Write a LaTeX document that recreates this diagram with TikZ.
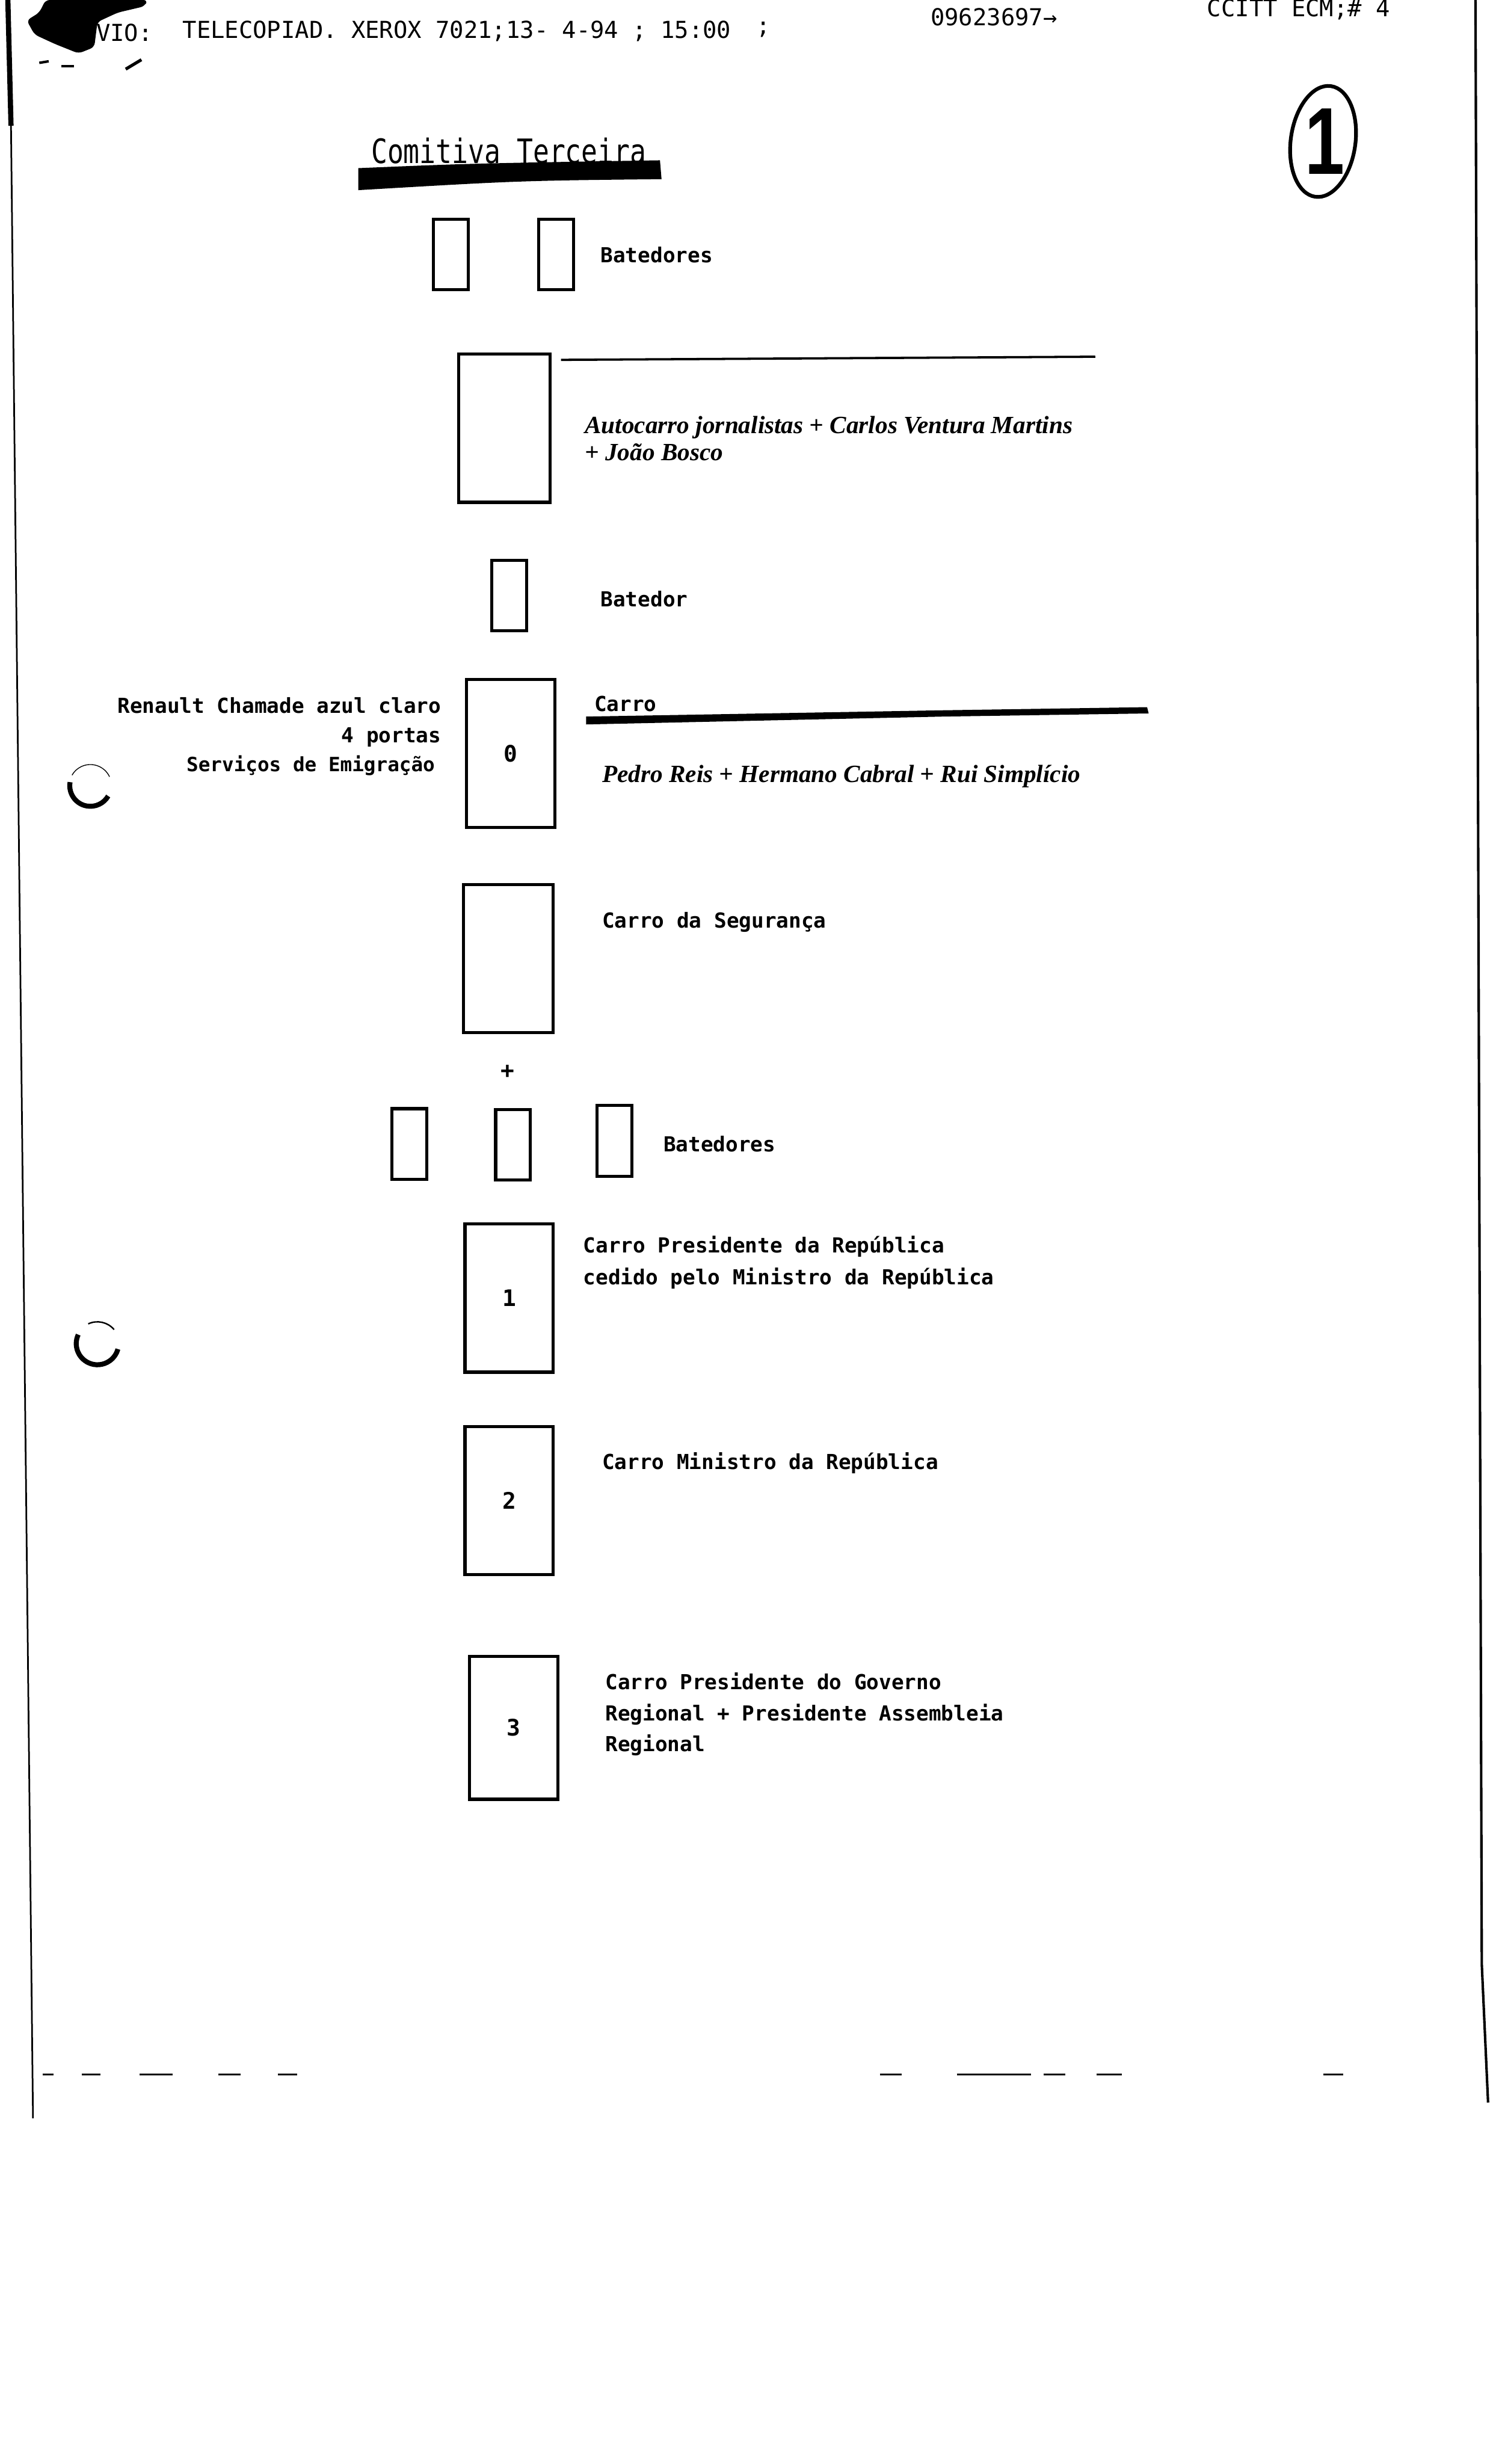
\documentclass[tikz,border=0pt]{standalone}
\usepackage{fontspec}
\usetikzlibrary{shapes.geometric}
\newfontfamily\faxfont{DejaVu Sans Mono}
\newfontfamily\pressfont{Liberation Serif}
\newfontfamily\handfont{Liberation Sans}
\tikzset{
  moto/.style={draw, line width=1.5pt, minimum width=0.59cm, minimum height=1.2cm, inner sep=0pt},
  car/.style={draw, line width=1.5pt, minimum width=1.5cm, minimum height=2.52cm, inner sep=0pt,
    font=\faxfont\bfseries\fontsize{11}{11}\selectfont},
  fax/.style={anchor=west, inner sep=0pt, align=left, font=\faxfont\bfseries\fontsize{10}{15.5}\selectfont},
  header/.style={anchor=west, inner sep=0pt, font=\faxfont\fontsize{11.3}{11.3}\selectfont},
  press/.style={anchor=west, inner sep=0pt, align=left,
    font=\pressfont\bfseries\itshape\fontsize{12}{13}\selectfont},
}
\begin{document}
\begin{tikzpicture}[x=0.02672cm, y=-0.02672cm]
    \fill[white] (0,0) rectangle (952,1568);
    \useasboundingbox (0,0) rectangle (952,1568);
    % Fax page edges and header
    \fill[rounded corners=2pt] (29,0) -- (94,0) -- (92,4) -- (75,8) -- (62,14) -- (60,30) -- (50,34)
        -- (35,28) -- (22,22) -- (17,13) -- (25,8) -- cycle;
    \draw[line width=1.2pt] (25,40) -- (31,39);
    \draw[line width=1.2pt] (39,42) -- (47,42);
    \draw[line width=1.5pt] (80,44) -- (90,38);
    \draw[line width=2.5pt] (5,0) -- (7,80);
    \draw[line width=0.8pt] (7,80) -- (21,1348);
    \draw[line width=1.2pt] (939,0) -- (943,1250) -- (947,1338);
    \node[header] (hdvio) at (61,21) {VIO:};
    \node[header] (hdfax) at (116,20) {TELECOPIAD. XEROX 7021;13- 4-94 ; 15:00};
    \node[header] (hdsemi) at (481,19) {;};
    \node[header] (hdnum) at (592,11) {09623697→};
    \node[header] (hdecm) at (768,6) {CCITT ECM;\# 4};
    \foreach \a/\b in {27/34, 52/64, 89/110, 139/153, 177/189, 560/574, 609/656, 664/678, 698/714, 842/855}
        \draw[line width=0.9pt] (\a,1320) -- (\b,1320);
    % Page number
    \node[draw, ellipse, line width=1.8pt, minimum width=1.1cm, minimum height=1.9cm, rotate=-8] (pageno) at (842,90) {};
    \node[font=\handfont\bfseries\fontsize{46}{46}\selectfont] (pagenum) at (843,90) {\scalebox{0.75}[1]{1}};
    % Title
    \node[anchor=west, inner sep=0pt, font=\faxfont\fontsize{13}{13}\selectfont] (title) at (236,96)
        {\scalebox{1}[1.25]{Comitiva Terceira}};
    \fill (228,107) .. controls (300,104) .. (420,102) -- (421,114) .. controls (330,115) .. (228,121) -- cycle;
    % Batedores
    \node[moto] (bat1) at (287,162) {};
    \node[moto] (bat2) at (354,162) {};
    \node[fax] (lbat) at (382,162) {Batedores};
    % Autocarro
    \node[car, minimum width=1.55cm] (bus) at (321,272.5) {};
    \draw[line width=1.1pt] (357,229) -- (697,227);
    \node[press] (lbus) at (372,279) {Autocarro jornalistas + Carlos Ventura Martins\\+ João Bosco};
    \node[moto] (bat3) at (324,379) {};
    \node[fax] (lbat3) at (382,381) {Batedor};
    % Carro 0
    \node[car] (car0) at (325,479.5) {0};
    \node[fax] (lcar0) at (378,448) {Carro};
    \fill (373,456) -- (600,452) -- (730,450) -- (731,454) -- (600,456) -- (373,461) -- cycle;
    \node[press] (lcar0b) at (383,494) {Pedro Reis + Hermano Cabral + Rui Simplício};
    \node[fax, anchor=east] (renault) at (281,449) {Renault Chamade azul claro};
    \node[fax, anchor=east] (portas) at (281,469) {4 portas};
    \node[fax, anchor=east, font=\faxfont\bfseries\fontsize{9.5}{9.5}\selectfont] (emig) at (277,487) {Serviços de Emigração};
    % Carro de Seguranca
    \node[car, minimum width=1.52cm] (seg) at (323.5,610) {};
    \node[fax] (lseg) at (383,587) {Carro da Segurança};
    \node[inner sep=0pt, font=\faxfont\bfseries\fontsize{11}{11}\selectfont] (plus) at (323,682) {+};
    \node[moto] (bat4) at (260.5,728) {};
    \node[moto] (bat5) at (326.5,728.5) {};
    \node[moto] (bat6) at (391,726) {};
    \node[fax] (lbat6) at (422,728) {Batedores};
    % Carros 1-3
    \node[car] (car1) at (324,826) {1};
    \node[fax] (lcar1) at (371,803.5) {Carro Presidente da República\\cedido pelo Ministro da República};
    \node[car] (car2) at (324,955) {2};
    \node[fax] (lcar2) at (383,931) {Carro Ministro da República};
    \node[car, minimum height=2.43cm] (car3) at (327,1099.5) {3};
    \node[fax, font=\faxfont\bfseries\fontsize{10}{15}\selectfont] (lcar3) at (385,1091)
        {Carro Presidente do Governo\\Regional + Presidente Assembleia\\Regional};
    % Punch holes
    \draw[line width=2.4pt] (57.5,500) ++(170:0.35cm) arc[start angle=170, end angle=330, radius=0.35cm];
    \draw[line width=0.4pt] (57.5,500) ++(25:0.36cm) arc[start angle=25, end angle=150, radius=0.36cm];
    \draw[line width=2.4pt] (62,855) ++(155:0.36cm) arc[start angle=155, end angle=345, radius=0.36cm];
    \draw[line width=0.7pt] (62,855) ++(40:0.37cm) arc[start angle=40, end angle=115, radius=0.37cm];
\end{tikzpicture}
\end{document}
